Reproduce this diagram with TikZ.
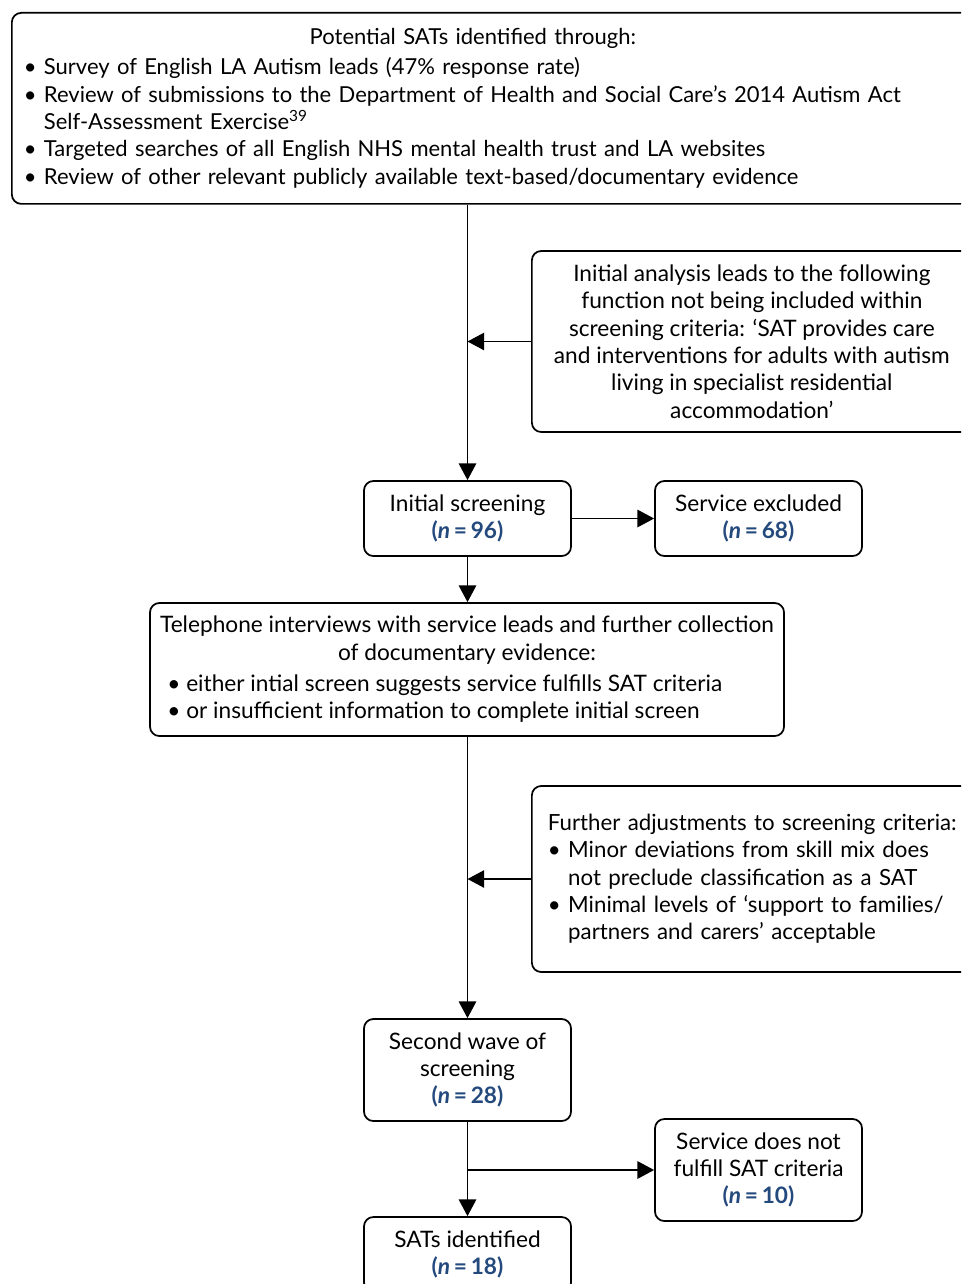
\documentclass[tikz,border=0pt]{standalone}
\usepackage{fontspec}
\setmainfont{Lato}
\usepackage{xcolor}
\usetikzlibrary{arrows.meta, positioning}

\definecolor{nblue}{RGB}{36,73,125}
\newcommand{\nval}[1]{\textcolor{nblue}{\textbf{(\textit{n}\,=\,#1)}}}
\newcommand{\bul}{\textbullet\ }
\newcommand{\bulgap}{\phantom{\textbullet\ }}

\begin{document}
\begin{tikzpicture}[x=0.75pt, y=-0.75pt, >=Stealth,
    font=\fontsize{17}{20.5}\selectfont,
    box/.style={draw, line width=1.3pt, rounded corners=7pt, inner sep=0pt,
                align=center, minimum width=155.25pt, minimum height=56.25pt},
    note/.style={draw, line width=1.3pt, rounded corners=7pt, inner ysep=0pt,
                 minimum width=330pt},
    arr/.style={-{Triangle[length=12.5pt, width=13pt]}, line width=1.3pt}]

\useasboundingbox (0,0) rectangle (961,1284);
\clip (0,0) rectangle (961,1284);

% ── Sources ────────────────────────────────────────────────────────
\node[note, anchor=north west, minimum width=723pt, minimum height=143.25pt,
      font=\fontsize{16.5}{20.5}\selectfont,
      inner xsep=9pt, text width=705pt, align=left] (src) at (11,12)
    {\makebox[673.5pt]{Potential SATs identified through:}\\[2pt]
     \bul Survey of English LA Autism leads (47\% response rate)\\
     \bul Review of submissions to the Department of Health and Social Care’s 2014 Autism Act\\
     \bulgap Self-Assessment Exercise\textsuperscript{39}\\
     \bul Targeted searches of all English NHS mental health trust and LA websites\\
     \bul Review of other relevant publicly available text-based/documentary evidence};

% ── First screening ────────────────────────────────────────────────
\node[note, anchor=west, minimum height=135.75pt, align=center] (adj1) at (531,341.5)
    {Initial analysis leads to the following\\
     function not being included within\\
     screening criteria: ‘SAT provides care\\
     and interventions for adults with autism\\
     living in specialist residential\\
     accommodation’};

\node[box] (scr1) at (467.5,518.5) {Initial screening\\ \nval{96}};
\node[box] (excl) at (758.5,518.5) {Service excluded\\ \nval{68}};

% ── Interviews ─────────────────────────────────────────────────────
\node[box, minimum width=475.5pt, minimum height=99.75pt, inner xsep=6pt] (tel) at (467,669.5)
    {Telephone interviews with service leads and further collection\\
     of documentary evidence:\\[3pt]
     \makebox[463.5pt][l]{\hspace{7pt}\bul either intial screen suggests service fulfills SAT criteria}\\
     \makebox[463.5pt][l]{\hspace{7pt}\bul or insufficient information to complete initial screen}};

% ── Second screening ───────────────────────────────────────────────
\node[note, anchor=west, minimum height=139.5pt, inner xsep=12pt,
      font=\fontsize{16.7}{20.5}\selectfont,
      text width=318pt, align=left] (adj2) at (531,879)
    {Further adjustments to screening criteria:\\
     \bul Minor deviations from skill mix does\\
     \bulgap not preclude classification as a SAT\\
     \bul Minimal levels of ‘support to families/\\
     \bulgap partners and carers’ acceptable};

\node[box, minimum height=76.5pt] (scr2) at (467.5,1070) {Second wave of\\ screening\\ \nval{28}};
\node[box, minimum height=76.5pt] (fail) at (758.5,1170) {Service does not\\ fulfill SAT criteria\\ \nval{10}};
\node[box] (sats) at (467.5,1254.5) {SATs identified\\ \nval{18}};

% Connectors
\draw[arr] (scr1.north |- src.south) -- (scr1.north);
\draw[arr] (adj1.west) -- (adj1.west -| scr1.north);
\draw[arr] (scr1) -- (excl);
\draw[arr] (scr1.south) -- (scr1.south |- tel.north);
\draw[arr] (scr2.north |- tel.south) -- (scr2.north);
\draw[arr] (adj2.west) -- (adj2.west -| scr2.north);
\draw[arr] (scr2.south) -- (sats.north);
\coordinate (br) at (scr2.south |- fail.west);
\draw[arr] (br) -- (fail.west);

\end{tikzpicture}
\end{document}
